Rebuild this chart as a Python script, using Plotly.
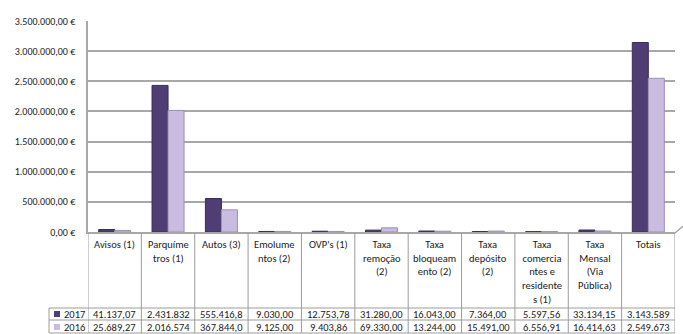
import plotly.graph_objects as go

categories = ["Avisos (1)", "Parquíme<br>tros (1)", "Autos (3)", "Emolume<br>ntos (2)",
              "OVP's (1)", "Taxa<br>remoção<br>(2)", "Taxa<br>bloqueam<br>ento (2)",
              "Taxa<br>depósito<br>(2)", "Taxa<br>comercia<br>ntes e<br>residente<br>s (1)",
              "Taxa<br>Mensal<br>(Via<br>Pública)", "Totais"]
series_names = ["2017", "2016"]
values_2017 = [41137.07, 2431832, 555416.8, 9030.00, 12753.78, 31280.00,
               16043.00, 7364.00, 5597.56, 33134.15, 3143589]
values_2016 = [25689.27, 2016574, 367844.0, 9125.00, 9403.86, 69330.00,
               13244.00, 15491.00, 6556.91, 16414.63, 2549673]
labels_2017 = ["41.137,07", "2.431.832", "555.416,8", "9.030,00", "12.753,78", "31.280,00",
               "16.043,00", "7.364,00", "5.597,56", "33.134,15", "3.143.589"]
labels_2016 = ["25.689,27", "2.016.574", "367.844,0", "9.125,00", "9.403,86", "69.330,00",
               "13.244,00", "15.491,00", "6.556,91", "16.414,63", "2.549.673"]
y_ticks = [0, 500000, 1000000, 1500000, 2000000, 2500000, 3000000, 3500000]


def eur(v):
    s = f"{v:,.2f}"  # 3,500,000.00
    s = s.replace(",", "X").replace(".", ",").replace("X", ".")
    return s + " €"


y_ticktext = [eur(v) for v in y_ticks]

W, H = 683, 334
L, R, T, B = 88, 8, 21, 102
PH = H - T - B
PW = W - L - R


def py(p):
    return (H - B - p) / PH


def px(p):
    return (p - L) / PW


FONT = "Carlito, Lato, sans-serif"
FS = 10.5
TXT = "#1a1a1a"
DARK, LIGHT = "#4F3D74", "#C9BCE0"
DARK_LINE, LIGHT_LINE = "#3B2D5A", "#9D8FB8"
GRID = "#A8A8A8"
TBL = "#9C9C9C"

x_idx = list(range(len(categories)))

fig = go.Figure()
fig.add_bar(x=x_idx, y=values_2017, name=series_names[0], marker_color=DARK,
            marker_line=dict(color=DARK_LINE, width=1))
fig.add_bar(x=x_idx, y=values_2016, name=series_names[1], marker_color=LIGHT,
            marker_line=dict(color=LIGHT_LINE, width=1))

shapes = []
annotations = []
# vertical table lines
for i in range(len(categories) + 1):
    shapes.append(dict(type="line", xref="x", yref="paper", x0=i - 0.5, x1=i - 0.5,
                       y0=py(233), y1=py(333), line=dict(color=TBL, width=1)))
# legend column left border
shapes.append(dict(type="line", xref="paper", yref="paper", x0=px(49), x1=px(49),
                   y0=py(308), y1=py(333), line=dict(color=TBL, width=1)))
# horizontal table lines
for yy in [308, 320, 333]:
    shapes.append(dict(type="line", xref="paper", yref="paper", x0=px(49), x1=1,
                       y0=py(yy), y1=py(yy), line=dict(color=TBL, width=1)))
# front floor edge slant at right
shapes.append(dict(type="line", xref="paper", yref="paper", x0=1, x1=px(683),
                   y0=py(233), y1=py(226), line=dict(color=GRID, width=1.5)))

# header text
for i, c in enumerate(categories):
    annotations.append(dict(x=i, y=py(236), xref="x", yref="paper", text=c, showarrow=False,
                            yanchor="top", xanchor="center", align="center",
                            font=dict(family=FONT, size=FS, color=TXT)))
# data rows
rows = [(labels_2017, series_names[0], DARK, 314), (labels_2016, series_names[1], LIGHT, 327)]
for labs, name, col, yc in rows:
    for i, t in enumerate(labs):
        annotations.append(dict(x=i, y=py(yc), xref="x", yref="paper", text=t, showarrow=False,
                                yanchor="middle", xanchor="center",
                                font=dict(family=FONT, size=FS, color=TXT)))
    annotations.append(dict(x=px(62), y=py(yc), xref="paper", yref="paper", text=name,
                            showarrow=False, xanchor="left", yanchor="middle",
                            font=dict(family=FONT, size=FS, color=TXT)))
    shapes.append(dict(type="rect", xref="paper", yref="paper", x0=px(54), x1=px(60),
                       y0=py(yc + 3), y1=py(yc - 3), fillcolor=col, line=dict(width=0)))

fig.update_layout(
    width=W, height=H, margin=dict(l=L, r=R, t=T, b=B, pad=0),
    paper_bgcolor="white", plot_bgcolor="white",
    barmode="group", bargap=0.4, bargroupgap=0.0,
    showlegend=False,
    font=dict(family=FONT, size=FS, color=TXT),
    shapes=shapes, annotations=annotations,
    xaxis=dict(range=[-0.5, len(categories) - 0.5], showticklabels=False, showgrid=False,
               zeroline=False, showline=True, linecolor=GRID, linewidth=1.5, ticks=""),
    yaxis=dict(range=[0, 3500000], tickmode="array", tickvals=y_ticks, ticktext=y_ticktext,
               showgrid=True, gridcolor=GRID, gridwidth=1.5, zeroline=False,
               showline=True, linecolor=GRID, linewidth=1.5, ticks="", ticklen=0,
               ticklabelstandoff=9,
               tickfont=dict(family=FONT, size=10, color=TXT)),
)
fig.write_html("out.html")
